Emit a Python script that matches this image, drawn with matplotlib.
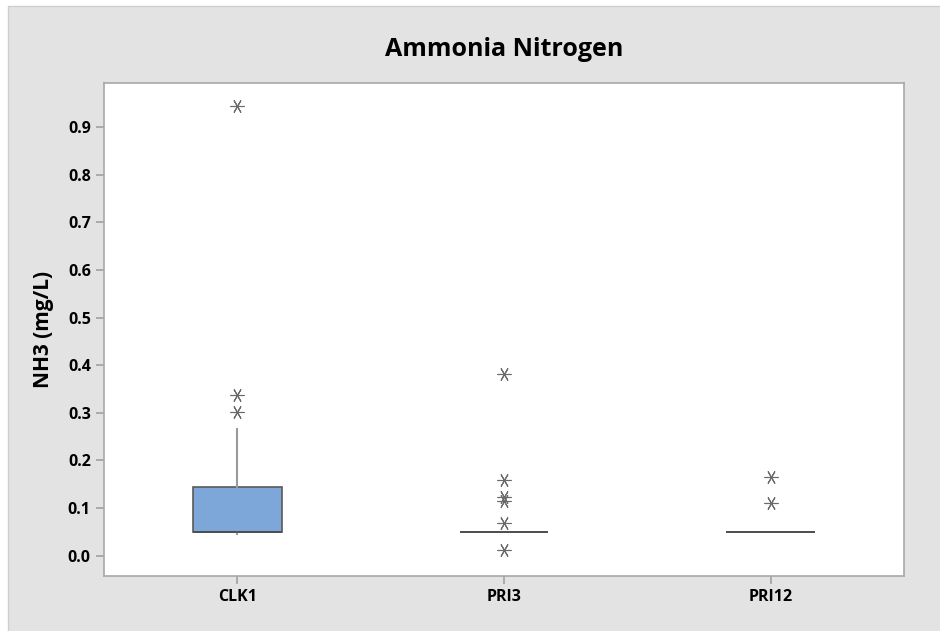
import matplotlib.pyplot as plt
from matplotlib.patches import Rectangle

# summary stats
sites = ['CLK1', 'PRI3', 'PRI12']
q1 = [0.049, 0.049, 0.049]
med = [0.049, 0.049, 0.049]
q3 = [0.145, 0.049, 0.049]
whislo = [0.046, 0.049, 0.049]
whishi = [0.265, 0.049, 0.049]
outliers = [
    [0.944, 0.337, 0.302],
    [0.382, 0.158, 0.122, 0.115, 0.068, 0.011],
    [0.166, 0.110],
]
yticks = [0.0, 0.1, 0.2, 0.3, 0.4, 0.5, 0.6, 0.7, 0.8, 0.9]

plt.rcParams['font.family'] = ['Open Sans', 'DejaVu Sans']

fig = plt.figure(figsize=(9.4, 6.31), dpi=100, facecolor='white')
fig.patches.append(Rectangle((8 / 940, -0.01), 1.1, 1.01 - 6 / 631, transform=fig.transFigure,
                             facecolor='#e3e3e3', edgecolor='#cfcfcf', lw=1, zorder=-10))
ax = fig.add_axes([104 / 940, 1 - 576 / 631, 800 / 940, 493 / 631])

stats = []
for i in range(len(sites)):
    stats.append(dict(label=sites[i], q1=q1[i], med=med[i], q3=q3[i],
                      whislo=whislo[i], whishi=whishi[i], fliers=outliers[i]))

ax.bxp(stats, positions=[1, 2, 3], widths=0.333, patch_artist=True, showcaps=False,
       boxprops=dict(facecolor='#7da7d9', edgecolor='#5a5a5a', linewidth=1.2),
       medianprops=dict(color='#4a4a4a', linewidth=1.2),
       whiskerprops=dict(color='#9a9a9a', linewidth=1.5),
       flierprops=dict(marker=(6, 2, 90), markersize=10, markeredgecolor='#6a6a6a',
                       markeredgewidth=0.8, linestyle='none'))

ax.set_xlim(0.5, 3.5)
ax.set_ylim(-0.043, 0.993)
ax.set_yticks(yticks)
ax.set_yticklabels(['%.1f' % v for v in yticks])
ax.set_xticks([1, 2, 3])
ax.set_xticklabels(sites)
for lab in ax.get_xticklabels() + ax.get_yticklabels():
    lab.set_fontsize(11.5)
    lab.set_fontweight('bold')
ax.tick_params(axis='both', colors='#a0a0a0', labelcolor='black', length=6, width=1.2)
for s in ax.spines.values():
    s.set_color('#a8a8a8')
    s.set_linewidth(1.2)

ax.set_ylabel('NH3 (mg/L)', fontsize=15, fontweight='bold', labelpad=10)
fig.text(0.5 * (104 + 904) / 940, 1 - 49 / 631, 'Ammonia Nitrogen', fontsize=18,
         fontweight='bold', ha='center', va='center')

fig.savefig('out.png', dpi=100, facecolor=fig.get_facecolor())
